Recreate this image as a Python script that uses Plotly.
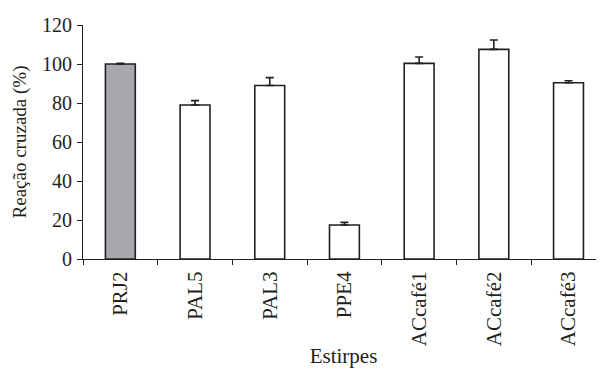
import plotly.graph_objects as go

categories = ["PRJ2", "PAL5", "PAL3", "PPE4", "ACcafé1", "ACcafé2", "ACcafé3"]
values = [100, 79, 89, 17.4, 100.3, 107.5, 90.4]
errors = [0.3, 2.2, 4.0, 1.4, 3.3, 4.8, 1.0]
fill_colors = ["#a7a9ac", "white", "white", "white", "white", "white", "white"]
y_ticks = [0, 20, 40, 60, 80, 100, 120]

ink = "#231f20"
font = "Liberation Serif, Times New Roman, serif"

fig = go.Figure(go.Bar(
    x=categories, y=values,
    marker=dict(color=fill_colors, line=dict(color=ink, width=1.6)),
    error_y=dict(type="data", array=errors, arrayminus=[0]*len(errors),
                 symmetric=False, color=ink, thickness=1.6, width=4),
    width=0.4,
))

# page body has an 8px default margin, so the figure is sized to fit the window
fig.update_layout(
    width=596, height=362,
    margin=dict(l=75, r=0, t=17, b=111),
    paper_bgcolor="white", plot_bgcolor="white",
    font=dict(family=font, color=ink, size=20),
    showlegend=False,
)
fig.update_xaxes(
    range=[-0.5, 6.475],
    automargin=False,
    showline=True, linecolor=ink, linewidth=1.2,
    ticks="outside", ticklen=5, tickcolor=ink, tickwidth=1.2,
    tickson="boundaries",
    tickangle=-90,
    ticklabelstandoff=3,
    tickfont=dict(size=21, family=font, color=ink),
    title=dict(text="Estirpes", font=dict(size=21, family=font, color=ink), standoff=3),
    showgrid=False, zeroline=False,
)
fig.update_yaxes(
    range=[0, 120], tickvals=y_ticks,
    automargin=False,
    showline=True, linecolor=ink, linewidth=1.2,
    ticks="outside", ticklen=5, tickcolor=ink, tickwidth=1.2,
    ticklabelstandoff=1,
    tickfont=dict(size=20, family=font, color=ink),
    title=dict(text="Reação cruzada (%)", font=dict(size=19, family=font, color=ink), standoff=10),
    showgrid=False, zeroline=False,
)

fig.write_html("out.html")
